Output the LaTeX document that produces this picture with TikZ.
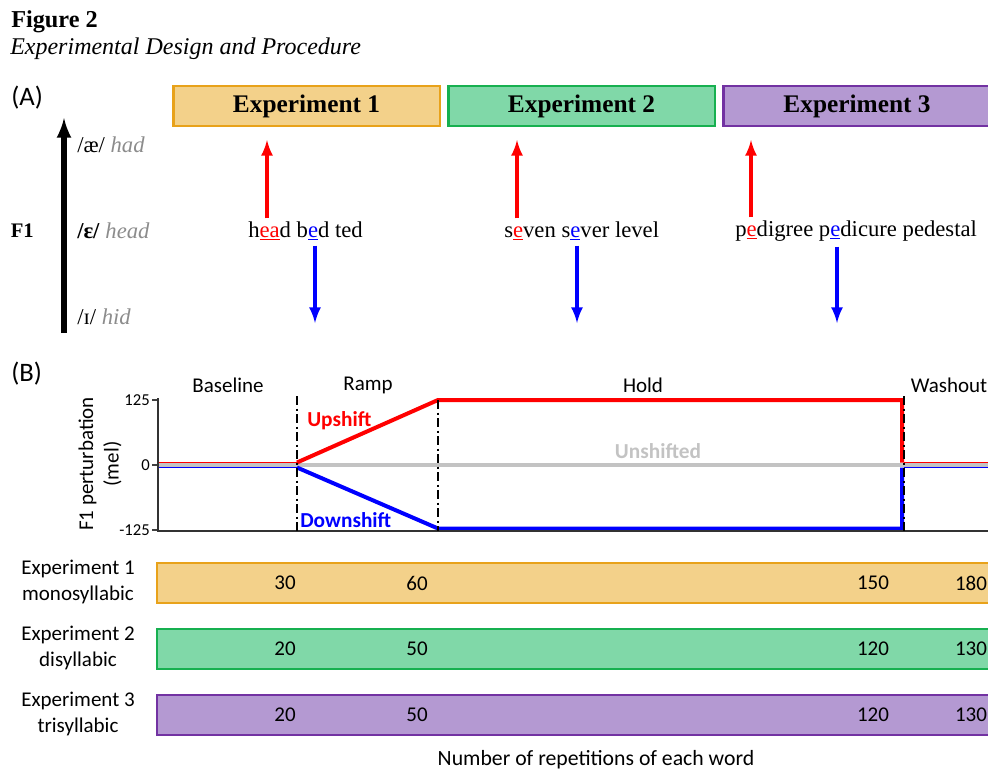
\documentclass[tikz,border=0pt]{standalone}
\usepackage{fontspec}
\setmainfont{Liberation Serif}
\newfontfamily\calibri{Carlito}
\usepackage{xcolor}
\usetikzlibrary{calc}

\definecolor{expAfill}{HTML}{F3D18A}
\definecolor{expAline}{HTML}{E8A21A}
\definecolor{expBfill}{HTML}{80D8A8}
\definecolor{expBline}{HTML}{17B050}
\definecolor{expCfill}{HTML}{B499D2}
\definecolor{expCline}{HTML}{7232A2}
\definecolor{vowelgray}{HTML}{8C8C8C}
\definecolor{flatgray}{HTML}{C3C3C3}

\tikzset{
	topbox/.style={minimum width=200pt, minimum height=30pt, line width=2pt, inner sep=0pt,
		font=\fontsize{19}{20}\selectfont\bfseries},
	word/.style={anchor=west, inner sep=0pt, font=\fontsize{17}{20}\selectfont},
	vowel/.style={anchor=west, inner sep=0pt, font=\fontsize{17}{20}\selectfont},
	uparrow/.style={->, >=latex, red, line width=3pt},
	downarrow/.style={->, >=latex, blue, line width=3pt},
	sanslab/.style={font=\calibri\fontsize{15.75}{19}\selectfont},
	cutline/.style={black, line width=1.3pt, dash pattern=on 7pt off 2.5pt on 1.5pt off 2.5pt},
	barbox/.style={line width=2.2pt},
}

\begin{document}
\begin{tikzpicture}[x=0.75pt, y=-0.75pt]
	\useasboundingbox (0,0) rectangle (988,771);
	\clip (0,0) rectangle (988,771);
	% title
	\node[anchor=west, inner sep=0pt, font=\fontsize{18.2}{20}\selectfont\bfseries] (fig) at (11,22) {Figure 2};
	\node[anchor=west, inner sep=0pt, font=\fontsize{18}{20}\selectfont\itshape] (cap) at (10,49) {Experimental Design and Procedure};
	% (A)
	\node[anchor=west, inner sep=0pt, font=\calibri\fontsize{20}{22}\selectfont] (pa) at (11,98) {(A)};
	\node[topbox, fill=expAfill, draw=expAline] (e1) at (306.5,106) {Experiment 1};
	\node[topbox, fill=expBfill, draw=expBline] (e2) at (581.5,106) {Experiment 2};
	\node[topbox, fill=expCfill, draw=expCline] (e3) at (857,106) {Experiment 3};
	\coordinate (fbot) at (64,333);
	\coordinate (ftop) at (64,118);
	\draw[->, >=latex, line width=4pt] (fbot) -- (ftop);
	\node[anchor=east, inner sep=0pt, font=\fontsize{15.5}{18}\selectfont\bfseries] (f1) at (34,231) {F1};
	\node[vowel] (v1) at (77,145) {/æ/ \textcolor{vowelgray}{\itshape had}};
	\node[vowel] (v2) at (77,231) {\textbf{/ɛ/} \textcolor{vowelgray}{\itshape head}};
	\node[vowel] (v3) at (77,317) {/ɪ/ \textcolor{vowelgray}{\itshape hid}};
	% words
	\node[word] (w1) at (248,231) {h\textcolor{red}{\underline{ea}}d b\textcolor{blue}{\underline{e}}d ted};
	\node[word] (w2) at (504,231) {s\textcolor{red}{\underline{e}}ven s\textcolor{blue}{\underline{e}}ver level};
	\node[word] (w3) at (735,231) {p\textcolor{red}{\underline{e}}digree p\textcolor{blue}{\underline{e}}dicure pedestal};
	\coordinate (u1) at (267,140);	\coordinate (d1) at (315,323);
	\coordinate (u2) at (517,140);	\coordinate (d2) at (577,323);
	\coordinate (u3) at (751,140);	\coordinate (d3) at (837,323);
	\draw[uparrow] ($(w1.north -| u1)+(0,-3)$) -- (u1);
	\draw[uparrow] ($(w2.north -| u2)+(0,-3)$) -- (u2);
	\draw[uparrow] ($(w3.north -| u3)+(0,-3)$) -- (u3);
	\draw[downarrow] ($(w1.south -| d1)+(0,5)$) -- (d1);
	\draw[downarrow] ($(w2.south -| d2)+(0,5)$) -- (d2);
	\draw[downarrow] ($(w3.south -| d3)+(0,5)$) -- (d3);
	% (B)
	\node[anchor=west, inner sep=0pt, font=\calibri\fontsize{20}{22}\selectfont] (pb) at (11,374) {(B)};
	\node[sanslab] (base) at (228,385) {Baseline};
	\node[sanslab] (ramp) at (368,385) {Ramp};
	\node[sanslab] (hold) at (643,385) {Hold};
	\node[sanslab] (wash) at (949,385) {Washout};
	\node[sanslab, rotate=90, align=center] (ylab) at (100,464) {F1 perturbation\\(mel)};
	\foreach \y/\t in {400/125, 465/0, 530/-125}{
		\draw[line width=1pt, black!75] (152,\y) -- (158,\y);
		\node[anchor=east, inner sep=0pt, font=\calibri\fontsize{12.5}{14}\selectfont] at (150,\y) {\t};
	}
	\draw[flatgray, line width=2.5pt] (158,465) -- (988,465);
	\draw[red, line width=1pt] (158,462.5) -- (297,462.5);
	\draw[blue, line width=1pt] (158,467.5) -- (297,467.5);
	\draw[red, line width=3pt, line join=miter] (297,462.5) -- (438,400) -- (902,400) -- (902,462.5);
	\draw[blue, line width=3pt, line join=miter] (297,467.5) -- (438,528.5) -- (902,528.5) -- (902,467.5);
	\draw[red, line width=1pt] (904,462.5) -- (988,462.5);
	\draw[blue, line width=1pt] (904,467.5) -- (988,467.5);
	\draw[line width=1.2pt, black!80] (158,398) -- (158,531) -- (988,531);
	\draw[cutline] (297,396) -- (297,531);
	\draw[cutline] (438,400) -- (438,531);
	\draw[cutline] (904,396) -- (904,531);
	\node[anchor=west, inner sep=0pt, red, font=\calibri\fontsize{16}{18}\selectfont\bfseries] (up) at (307,421) {Upshift};
	\node[anchor=west, inner sep=0pt, blue, font=\calibri\fontsize{16}{18}\selectfont\bfseries] (down) at (300,520) {Downshift};
	\node[flatgray, font=\calibri\fontsize{16}{18}\selectfont\bfseries] (flat) at (658,451) {Unshifted};
	% bars
	\draw[barbox, fill=expAfill, draw=expAline] (157,563) rectangle (1000,603);
	\draw[barbox, fill=expBfill, draw=expBline] (157,629) rectangle (1000,669);
	\draw[barbox, fill=expCfill, draw=expCline] (157,695) rectangle (1000,735);
	\node[sanslab, align=center] (l1) at (78,582) {Experiment 1\\monosyllabic};
	\node[sanslab, align=center] (l2) at (78,648) {Experiment 2\\disyllabic};
	\node[sanslab, align=center] (l3) at (78,714) {Experiment 3\\trisyllabic};
	\foreach \y/\a/\b/\c/\d in {583/30/60/150/180, 649/20/50/120/130, 715/20/50/120/130}{
		\node[sanslab] at (285,\y) {\a};
		\node[sanslab] at (417,\y) {\b};
		\node[sanslab] at (873,\y) {\c};
		\node[sanslab] at (971,\y) {\d};
	}
	\node[font=\calibri\fontsize{16.3}{18}\selectfont] (xlab) at (596,760) {Number of repetitions of each word};
\end{tikzpicture}
\end{document}
